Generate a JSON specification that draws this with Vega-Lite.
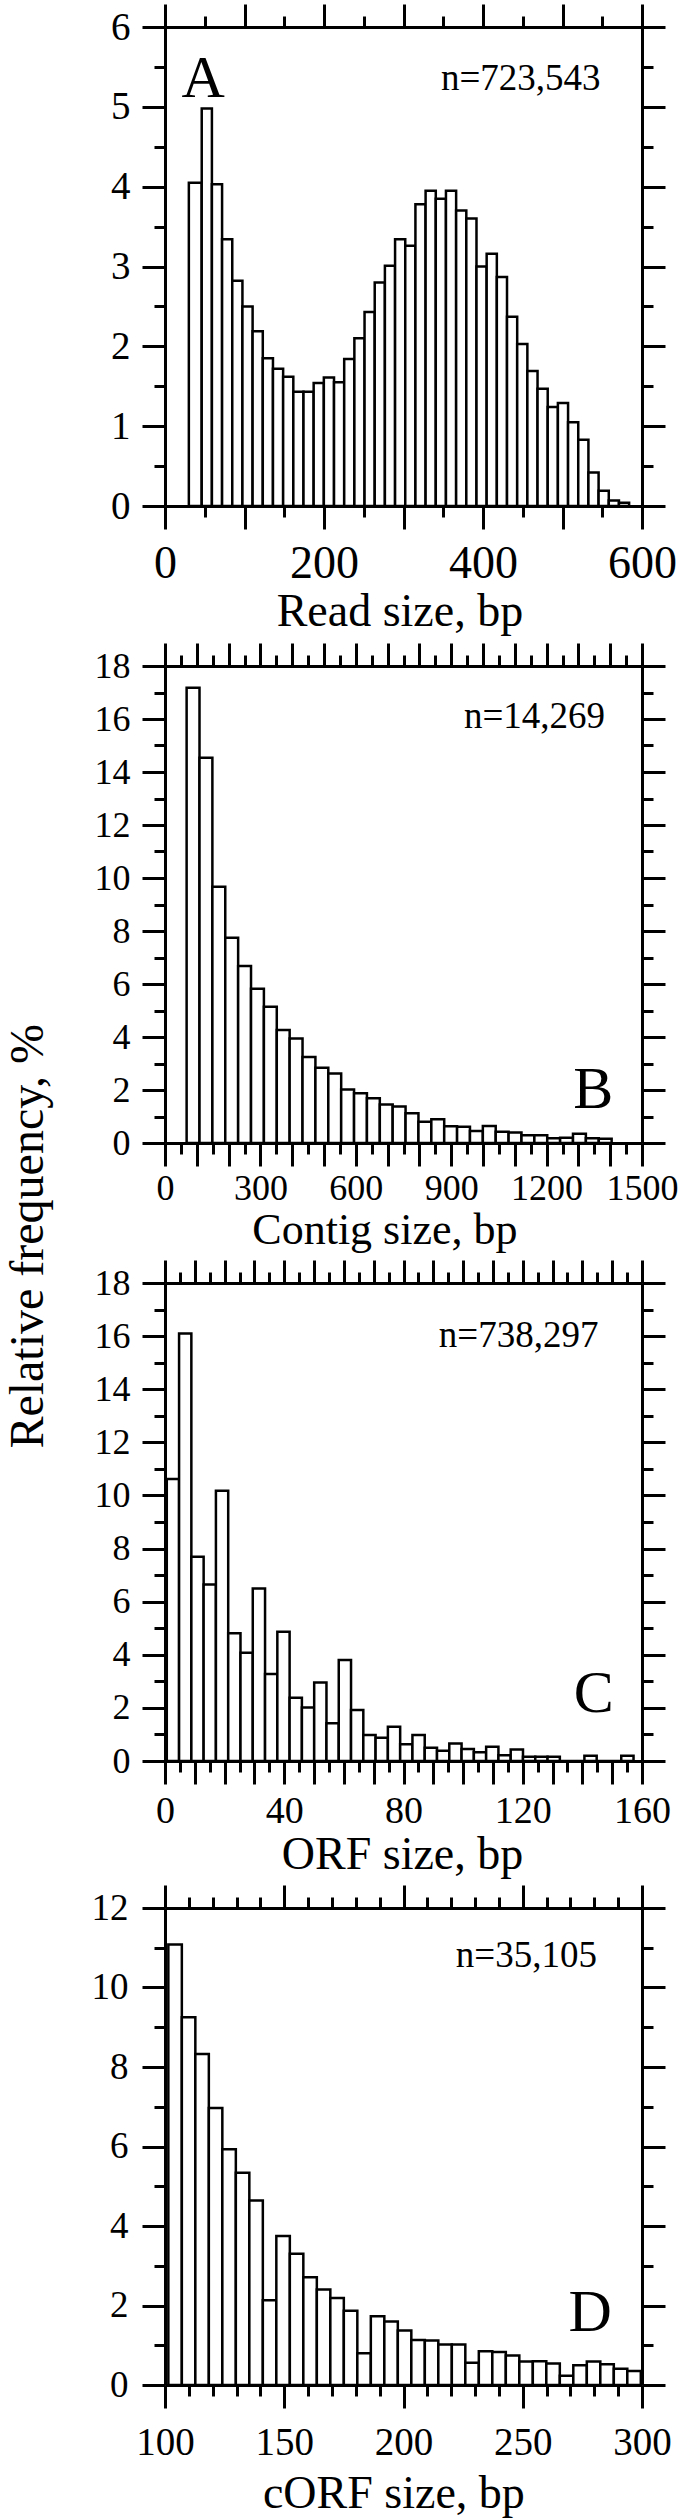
{
  "$schema": "https://vega.github.io/schema/vega-lite/v6.json",
  "background": "white",
  "padding": {"left": 4, "top": 2, "right": 5, "bottom": 5},
  "title": {"text": "Relative frequency, %", "orient": "left", "anchor": "middle", "fontSize": 48, "font": "Liberation Serif", "fontWeight": "normal", "color": "black", "offset": 38, "dx": 23},
  "spacing": 6,
  "bounds": "full",
  "datasets": {
    "a": [
      {"s":30,"e":46.2,"v":4.05},{"s":46.2,"e":59,"v":4.98},{"s":59,"e":71.8,"v":4.03},{"s":71.8,"e":84.6,"v":3.34},{"s":84.6,"e":97.4,"v":2.82},{"s":97.4,"e":110.2,"v":2.5},{"s":110.2,"e":123,"v":2.19},{"s":123,"e":135.8,"v":1.85},{"s":135.8,"e":148.6,"v":1.72},{"s":148.6,"e":161.4,"v":1.62},{"s":161.4,"e":174.2,"v":1.43},{"s":174.2,"e":187,"v":1.43},{"s":187,"e":199.8,"v":1.54},{"s":199.8,"e":212.6,"v":1.61},{"s":212.6,"e":225.4,"v":1.55},{"s":225.4,"e":238.2,"v":1.84},{"s":238.2,"e":251,"v":2.1},{"s":251,"e":263.8,"v":2.43},{"s":263.8,"e":276.6,"v":2.8},{"s":276.6,"e":289.4,"v":3.01},{"s":289.4,"e":302.2,"v":3.34},{"s":302.2,"e":315,"v":3.26},{"s":315,"e":327.8,"v":3.78},{"s":327.8,"e":340.6,"v":3.95},{"s":340.6,"e":353.4,"v":3.85},{"s":353.4,"e":366.2,"v":3.95},{"s":366.2,"e":379,"v":3.7},{"s":379,"e":391.8,"v":3.6},{"s":391.8,"e":404.6,"v":3.0},{"s":404.6,"e":417.4,"v":3.16},{"s":417.4,"e":430.2,"v":2.87},{"s":430.2,"e":443,"v":2.37},{"s":443,"e":455.8,"v":2.03},{"s":455.8,"e":468.6,"v":1.69},{"s":468.6,"e":481.4,"v":1.47},{"s":481.4,"e":494.2,"v":1.24},{"s":494.2,"e":507,"v":1.29},{"s":507,"e":519.8,"v":1.05},{"s":519.8,"e":532.6,"v":0.83},{"s":532.6,"e":545.4,"v":0.42},{"s":545.4,"e":558.2,"v":0.19},{"s":558.2,"e":571,"v":0.07},{"s":571,"e":583.8,"v":0.04}
    ],
    "aL": [{"x":20.6,"y":5.12,"t":"A"}],
    "aN": [{"x":547.9,"y":5.21,"t":"n=723,543"}],
    "b": [
      {"s":68,"e":108.5,"v":17.18},{"s":108.5,"e":149,"v":14.54},{"s":149,"e":189.5,"v":9.67},{"s":189.5,"e":230,"v":7.75},{"s":230,"e":270.5,"v":6.68},{"s":270.5,"e":311,"v":5.82},{"s":311,"e":351.5,"v":5.14},{"s":351.5,"e":392,"v":4.26},{"s":392,"e":432.5,"v":3.94},{"s":432.5,"e":473,"v":3.25},{"s":473,"e":513.5,"v":2.84},{"s":513.5,"e":554,"v":2.62},{"s":554,"e":594.5,"v":2.02},{"s":594.5,"e":635,"v":1.88},{"s":635,"e":675.5,"v":1.69},{"s":675.5,"e":716,"v":1.45},{"s":716,"e":756.5,"v":1.38},{"s":756.5,"e":797,"v":1.12},{"s":797,"e":837.5,"v":0.8},{"s":837.5,"e":878,"v":0.9},{"s":878,"e":918.5,"v":0.63},{"s":918.5,"e":959,"v":0.61},{"s":959,"e":999.5,"v":0.45},{"s":999.5,"e":1040,"v":0.64},{"s":1040,"e":1080.5,"v":0.42},{"s":1080.5,"e":1121,"v":0.4},{"s":1121,"e":1161.5,"v":0.29},{"s":1161.5,"e":1202,"v":0.29},{"s":1202,"e":1242.5,"v":0.18},{"s":1242.5,"e":1283,"v":0.2},{"s":1283,"e":1323.5,"v":0.35},{"s":1323.5,"e":1364,"v":0.18},{"s":1364,"e":1404.5,"v":0.16}
    ],
    "bL": [{"x":1410,"y":1.33,"t":"B"}],
    "bN": [{"x":1384,"y":15.67,"t":"n=14,269"}],
    "c": [
      {"s":0.6,"e":4.72,"v":10.62},{"s":4.72,"e":8.84,"v":16.1},{"s":8.84,"e":12.96,"v":7.69},{"s":12.96,"e":17.08,"v":6.65},{"s":17.08,"e":21.2,"v":10.18},{"s":21.2,"e":25.32,"v":4.81},{"s":25.32,"e":29.44,"v":4.08},{"s":29.44,"e":33.56,"v":6.5},{"s":33.56,"e":37.68,"v":3.28},{"s":37.68,"e":41.8,"v":4.87},{"s":41.8,"e":45.92,"v":2.38},{"s":45.92,"e":50.04,"v":2.01},{"s":50.04,"e":54.16,"v":2.96},{"s":54.16,"e":58.28,"v":1.42},{"s":58.28,"e":62.4,"v":3.8},{"s":62.4,"e":66.52,"v":1.92},{"s":66.52,"e":70.64,"v":0.98},{"s":70.64,"e":74.76,"v":0.88},{"s":74.76,"e":78.88,"v":1.29},{"s":78.88,"e":83,"v":0.63},{"s":83,"e":87.12,"v":0.98},{"s":87.12,"e":91.24,"v":0.5},{"s":91.24,"e":95.36,"v":0.39},{"s":95.36,"e":99.48,"v":0.66},{"s":99.48,"e":103.6,"v":0.45},{"s":103.6,"e":107.72,"v":0.33},{"s":107.72,"e":111.84,"v":0.54},{"s":111.84,"e":115.96,"v":0.22},{"s":115.96,"e":120.08,"v":0.43},{"s":120.08,"e":124.2,"v":0.16},{"s":124.2,"e":128.32,"v":0.16},{"s":128.32,"e":132.44,"v":0.16},{"s":132.44,"e":136.56,"v":0},{"s":136.56,"e":140.68,"v":0},{"s":140.68,"e":144.8,"v":0.2},{"s":144.8,"e":148.92,"v":0},{"s":148.92,"e":153.04,"v":0},{"s":153.04,"e":157.16,"v":0.2}
    ],
    "cL": [{"x":150.5,"y":1.86,"t":"C"}],
    "cN": [{"x":145.4,"y":15.6,"t":"n=738,297"}],
    "d": [
      {"s":101.4,"e":107.06,"v":11.08},{"s":107.06,"e":112.72,"v":9.25},{"s":112.72,"e":118.38,"v":8.33},{"s":118.38,"e":124.04,"v":6.97},{"s":124.04,"e":129.7,"v":5.93},{"s":129.7,"e":135.36,"v":5.34},{"s":135.36,"e":141.02,"v":4.64},{"s":141.02,"e":146.68,"v":2.13},{"s":146.68,"e":152.34,"v":3.75},{"s":152.34,"e":158,"v":3.3},{"s":158,"e":163.66,"v":2.71},{"s":163.66,"e":169.32,"v":2.4},{"s":169.32,"e":174.98,"v":2.19},{"s":174.98,"e":180.64,"v":1.87},{"s":180.64,"e":186.3,"v":0.8},{"s":186.3,"e":191.96,"v":1.73},{"s":191.96,"e":197.62,"v":1.6},{"s":197.62,"e":203.28,"v":1.37},{"s":203.28,"e":208.94,"v":1.13},{"s":208.94,"e":214.6,"v":1.12},{"s":214.6,"e":220.26,"v":1.02},{"s":220.26,"e":225.92,"v":1.02},{"s":225.92,"e":231.58,"v":0.56},{"s":231.58,"e":237.24,"v":0.85},{"s":237.24,"e":242.9,"v":0.83},{"s":242.9,"e":248.56,"v":0.74},{"s":248.56,"e":254.22,"v":0.59},{"s":254.22,"e":259.88,"v":0.6},{"s":259.88,"e":265.54,"v":0.54},{"s":265.54,"e":271.2,"v":0.23},{"s":271.2,"e":276.86,"v":0.5},{"s":276.86,"e":282.52,"v":0.59},{"s":282.52,"e":288.18,"v":0.52},{"s":288.18,"e":293.84,"v":0.41},{"s":293.84,"e":299.5,"v":0.35}
    ],
    "dL": [{"x":287.4,"y":1.37,"t":"D"}],
    "dN": [{"x":281.1,"y":10.51,"t":"n=35,105"}]
  },
  "vconcat": [
    {
      "width": 477, "height": 479,
      "resolve": {"axis": {"x": "independent", "y": "independent"}},
      "layer": [
        {"data": {"name": "a"},
         "mark": {"type": "bar", "fill": "white", "stroke": "black", "strokeWidth": 2.5},
         "encoding": {
           "x": {"field": "s", "type": "quantitative", "scale": {"domain": [0, 600], "nice": false, "zero": false},
                 "axis": {"orient": "bottom", "values": [0,100,200,300,400,500,600], "tickSize": 23, "labelFontSize": 46, "labelPadding": 12,
                          "labelExpr": "datum.value % 200 === 0 ? datum.label : ''",
                          "title": "Read size, bp", "titleFontSize": 46, "titleBaseline": "alphabetic", "titleY": 119.5, "titleX": 234.4}},
           "x2": {"field": "e"},
           "y": {"field": "v", "type": "quantitative", "stack": null, "scale": {"domain": [0, 6], "nice": false},
                 "axis": {"orient": "left", "values": [0,1,2,3,4,5,6], "tickSize": 23, "labelFontSize": 39, "labelPadding": 12, "title": null}},
           "y2": {"datum": 0}
         }},
        {"data": {"name": "aL"},
         "mark": {"type": "text", "fontSize": 60, "align": "left", "baseline": "alphabetic", "font": "Liberation Serif", "color": "black"},
         "encoding": {
           "x": {"field": "x", "type": "quantitative", "scale": {"domain": [0, 600], "nice": false, "zero": false},
                 "axis": {"orient": "bottom", "values": [50,150,250,350,450,550], "tickSize": 11, "labels": false, "domain": false, "title": null}},
           "y": {"field": "y", "type": "quantitative", "scale": {"domain": [0, 6], "nice": false},
                 "axis": {"orient": "left", "values": [0.5,1.5,2.5,3.5,4.5,5.5], "tickSize": 11, "labels": false, "domain": false, "title": null}},
           "text": {"field": "t"}
         }},
        {"data": {"name": "aN"},
         "mark": {"type": "text", "fontSize": 37, "align": "right", "baseline": "alphabetic", "font": "Liberation Serif", "color": "black"},
         "encoding": {
           "x": {"field": "x", "type": "quantitative", "scale": {"domain": [0, 600], "nice": false, "zero": false},
                 "axis": {"orient": "top", "values": [0,100,200,300,400,500,600], "tickSize": 23, "labels": false, "title": null}},
           "y": {"field": "y", "type": "quantitative", "scale": {"domain": [0, 6], "nice": false},
                 "axis": {"orient": "right", "values": [0,1,2,3,4,5,6], "tickSize": 23, "labels": false, "title": null}},
           "text": {"field": "t"}
         }},
        {"data": {"name": "a"},
         "mark": {"type": "bar", "opacity": 0},
         "encoding": {
           "x": {"field": "s", "type": "quantitative", "scale": {"domain": [0, 600], "nice": false, "zero": false},
                 "axis": {"orient": "top", "values": [50,150,250,350,450,550], "tickSize": 11, "labels": false, "domain": false, "title": null}},
           "x2": {"field": "e"},
           "y": {"field": "v", "type": "quantitative", "stack": null, "scale": {"domain": [0, 6], "nice": false},
                 "axis": {"orient": "right", "values": [0.5,1.5,2.5,3.5,4.5,5.5], "tickSize": 11, "labels": false, "domain": false, "title": null}},
           "y2": {"datum": 0}
         }}
      ]
    },
    {
      "width": 477, "height": 477,
      "resolve": {"axis": {"x": "independent", "y": "independent"}},
      "layer": [
        {"data": {"name": "b"},
         "mark": {"type": "bar", "fill": "white", "stroke": "black", "strokeWidth": 2.5},
         "encoding": {
           "x": {"field": "s", "type": "quantitative", "scale": {"domain": [0, 1500], "nice": false, "zero": false},
                 "axis": {"orient": "bottom", "values": [0,100,200,300,400,500,600,700,800,900,1000,1100,1200,1300,1400,1500], "tickSize": 23, "labelFontSize": 36, "labelPadding": 5,
                          "labelExpr": "datum.value % 300 === 0 ? datum.label : ''", "format": "d",
                          "title": "Contig size, bp", "titleFontSize": 44, "titleBaseline": "alphabetic", "titleY": 100, "titleX": 219.4}},
           "x2": {"field": "e"},
           "y": {"field": "v", "type": "quantitative", "stack": null, "scale": {"domain": [0, 18], "nice": false},
                 "axis": {"orient": "left", "values": [0,2,4,6,8,10,12,14,16,18], "tickSize": 23, "labelFontSize": 36, "labelPadding": 12, "title": null}},
           "y2": {"datum": 0}
         }},
        {"data": {"name": "bL"},
         "mark": {"type": "text", "fontSize": 60, "align": "right", "baseline": "alphabetic", "font": "Liberation Serif", "color": "black"},
         "encoding": {
           "x": {"field": "x", "type": "quantitative", "scale": {"domain": [0, 1500], "nice": false, "zero": false},
                 "axis": {"orient": "bottom", "values": [50,150,250,350,450,550,650,750,850,950,1050,1150,1250,1350,1450], "tickSize": 11, "labels": false, "domain": false, "title": null}},
           "y": {"field": "y", "type": "quantitative", "scale": {"domain": [0, 18], "nice": false},
                 "axis": {"orient": "left", "values": [1,3,5,7,9,11,13,15,17], "tickSize": 11, "labels": false, "domain": false, "title": null}},
           "text": {"field": "t"}
         }},
        {"data": {"name": "bN"},
         "mark": {"type": "text", "fontSize": 37, "align": "right", "baseline": "alphabetic", "font": "Liberation Serif", "color": "black"},
         "encoding": {
           "x": {"field": "x", "type": "quantitative", "scale": {"domain": [0, 1500], "nice": false, "zero": false},
                 "axis": {"orient": "top", "values": [0,100,200,300,400,500,600,700,800,900,1000,1100,1200,1300,1400,1500], "tickSize": 23, "labels": false, "title": null}},
           "y": {"field": "y", "type": "quantitative", "scale": {"domain": [0, 18], "nice": false},
                 "axis": {"orient": "right", "values": [0,2,4,6,8,10,12,14,16,18], "tickSize": 23, "labels": false, "title": null}},
           "text": {"field": "t"}
         }},
        {"data": {"name": "b"},
         "mark": {"type": "bar", "opacity": 0},
         "encoding": {
           "x": {"field": "s", "type": "quantitative", "scale": {"domain": [0, 1500], "nice": false, "zero": false},
                 "axis": {"orient": "top", "values": [50,150,250,350,450,550,650,750,850,950,1050,1150,1250,1350,1450], "tickSize": 11, "labels": false, "domain": false, "title": null}},
           "x2": {"field": "e"},
           "y": {"field": "v", "type": "quantitative", "stack": null, "scale": {"domain": [0, 18], "nice": false},
                 "axis": {"orient": "right", "values": [1,3,5,7,9,11,13,15,17], "tickSize": 11, "labels": false, "domain": false, "title": null}},
           "y2": {"datum": 0}
         }}
      ]
    },
    {
      "width": 477, "height": 478,
      "resolve": {"axis": {"x": "independent", "y": "independent"}},
      "layer": [
        {"data": {"name": "c"},
         "mark": {"type": "bar", "fill": "white", "stroke": "black", "strokeWidth": 2.5},
         "encoding": {
           "x": {"field": "s", "type": "quantitative", "scale": {"domain": [0, 160], "nice": false, "zero": false},
                 "axis": {"orient": "bottom", "values": [0,10,20,30,40,50,60,70,80,90,100,110,120,130,140,150,160], "tickSize": 23, "labelFontSize": 38, "labelPadding": 8,
                          "labelExpr": "datum.value % 40 === 0 ? datum.label : ''",
                          "title": "ORF size, bp", "titleFontSize": 46, "titleBaseline": "alphabetic", "titleY": 107, "titleX": 237}},
           "x2": {"field": "e"},
           "y": {"field": "v", "type": "quantitative", "stack": null, "scale": {"domain": [0, 18], "nice": false},
                 "axis": {"orient": "left", "values": [0,2,4,6,8,10,12,14,16,18], "tickSize": 23, "labelFontSize": 36, "labelPadding": 12, "title": null}},
           "y2": {"datum": 0}
         }},
        {"data": {"name": "cL"},
         "mark": {"type": "text", "fontSize": 60, "align": "right", "baseline": "alphabetic", "font": "Liberation Serif", "color": "black"},
         "encoding": {
           "x": {"field": "x", "type": "quantitative", "scale": {"domain": [0, 160], "nice": false, "zero": false},
                 "axis": {"orient": "bottom", "values": [5,15,25,35,45,55,65,75,85,95,105,115,125,135,145,155], "tickSize": 11, "labels": false, "domain": false, "title": null}},
           "y": {"field": "y", "type": "quantitative", "scale": {"domain": [0, 18], "nice": false},
                 "axis": {"orient": "left", "values": [1,3,5,7,9,11,13,15,17], "tickSize": 11, "labels": false, "domain": false, "title": null}},
           "text": {"field": "t"}
         }},
        {"data": {"name": "cN"},
         "mark": {"type": "text", "fontSize": 37, "align": "right", "baseline": "alphabetic", "font": "Liberation Serif", "color": "black"},
         "encoding": {
           "x": {"field": "x", "type": "quantitative", "scale": {"domain": [0, 160], "nice": false, "zero": false},
                 "axis": {"orient": "top", "values": [0,10,20,30,40,50,60,70,80,90,100,110,120,130,140,150,160], "tickSize": 23, "labels": false, "title": null}},
           "y": {"field": "y", "type": "quantitative", "scale": {"domain": [0, 18], "nice": false},
                 "axis": {"orient": "right", "values": [0,2,4,6,8,10,12,14,16,18], "tickSize": 23, "labels": false, "title": null}},
           "text": {"field": "t"}
         }},
        {"data": {"name": "c"},
         "mark": {"type": "bar", "opacity": 0},
         "encoding": {
           "x": {"field": "s", "type": "quantitative", "scale": {"domain": [0, 160], "nice": false, "zero": false},
                 "axis": {"orient": "top", "values": [5,15,25,35,45,55,65,75,85,95,105,115,125,135,145,155], "tickSize": 11, "labels": false, "domain": false, "title": null}},
           "x2": {"field": "e"},
           "y": {"field": "v", "type": "quantitative", "stack": null, "scale": {"domain": [0, 18], "nice": false},
                 "axis": {"orient": "right", "values": [1,3,5,7,9,11,13,15,17], "tickSize": 11, "labels": false, "domain": false, "title": null}},
           "y2": {"datum": 0}
         }}
      ]
    },
    {
      "width": 477, "height": 477,
      "resolve": {"axis": {"x": "independent", "y": "independent"}},
      "layer": [
        {"data": {"name": "d"},
         "mark": {"type": "bar", "fill": "white", "stroke": "black", "strokeWidth": 2.5},
         "encoding": {
           "x": {"field": "s", "type": "quantitative", "scale": {"domain": [100, 300], "nice": false, "zero": false},
                 "axis": {"orient": "bottom", "values": [100,150,200,250,300], "tickSize": 23, "labelFontSize": 39, "labelPadding": 15,
                          "title": "cORF size, bp", "titleFontSize": 46, "titleBaseline": "alphabetic", "titleY": 122, "titleX": 228.4}},
           "x2": {"field": "e"},
           "y": {"field": "v", "type": "quantitative", "stack": null, "scale": {"domain": [0, 12], "nice": false},
                 "axis": {"orient": "left", "values": [0,2,4,6,8,10,12], "tickSize": 23, "labelFontSize": 37, "labelPadding": 14, "title": null}},
           "y2": {"datum": 0}
         }},
        {"data": {"name": "dL"},
         "mark": {"type": "text", "fontSize": 60, "align": "right", "baseline": "alphabetic", "font": "Liberation Serif", "color": "black"},
         "encoding": {
           "x": {"field": "x", "type": "quantitative", "scale": {"domain": [100, 300], "nice": false, "zero": false},
                 "axis": {"orient": "bottom", "values": [110,120,130,140,160,170,180,190,210,220,230,240,260,270,280,290], "tickSize": 11, "labels": false, "domain": false, "title": null}},
           "y": {"field": "y", "type": "quantitative", "scale": {"domain": [0, 12], "nice": false},
                 "axis": {"orient": "left", "values": [1,3,5,7,9,11], "tickSize": 11, "labels": false, "domain": false, "title": null}},
           "text": {"field": "t"}
         }},
        {"data": {"name": "dN"},
         "mark": {"type": "text", "fontSize": 37, "align": "right", "baseline": "alphabetic", "font": "Liberation Serif", "color": "black"},
         "encoding": {
           "x": {"field": "x", "type": "quantitative", "scale": {"domain": [100, 300], "nice": false, "zero": false},
                 "axis": {"orient": "top", "values": [100,150,200,250,300], "tickSize": 23, "labels": false, "title": null}},
           "y": {"field": "y", "type": "quantitative", "scale": {"domain": [0, 12], "nice": false},
                 "axis": {"orient": "right", "values": [0,2,4,6,8,10,12], "tickSize": 23, "labels": false, "title": null}},
           "text": {"field": "t"}
         }},
        {"data": {"name": "d"},
         "mark": {"type": "bar", "opacity": 0},
         "encoding": {
           "x": {"field": "s", "type": "quantitative", "scale": {"domain": [100, 300], "nice": false, "zero": false},
                 "axis": {"orient": "top", "values": [110,120,130,140,160,170,180,190,210,220,230,240,260,270,280,290], "tickSize": 11, "labels": false, "domain": false, "title": null}},
           "x2": {"field": "e"},
           "y": {"field": "v", "type": "quantitative", "stack": null, "scale": {"domain": [0, 12], "nice": false},
                 "axis": {"orient": "right", "values": [1,3,5,7,9,11], "tickSize": 11, "labels": false, "domain": false, "title": null}},
           "y2": {"datum": 0}
         }}
      ]
    }
  ],
  "config": {
    "view": {"stroke": null},
    "font": "Liberation Serif",
    "axis": {"domainColor": "black", "domainWidth": 3, "tickColor": "black", "tickWidth": 3, "labelColor": "black", "titleColor": "black", "labelFont": "Liberation Serif", "titleFont": "Liberation Serif", "titleFontWeight": "normal", "grid": false, "labelFlush": false, "labelOverlap": false, "zindex": 1}
  }
}
